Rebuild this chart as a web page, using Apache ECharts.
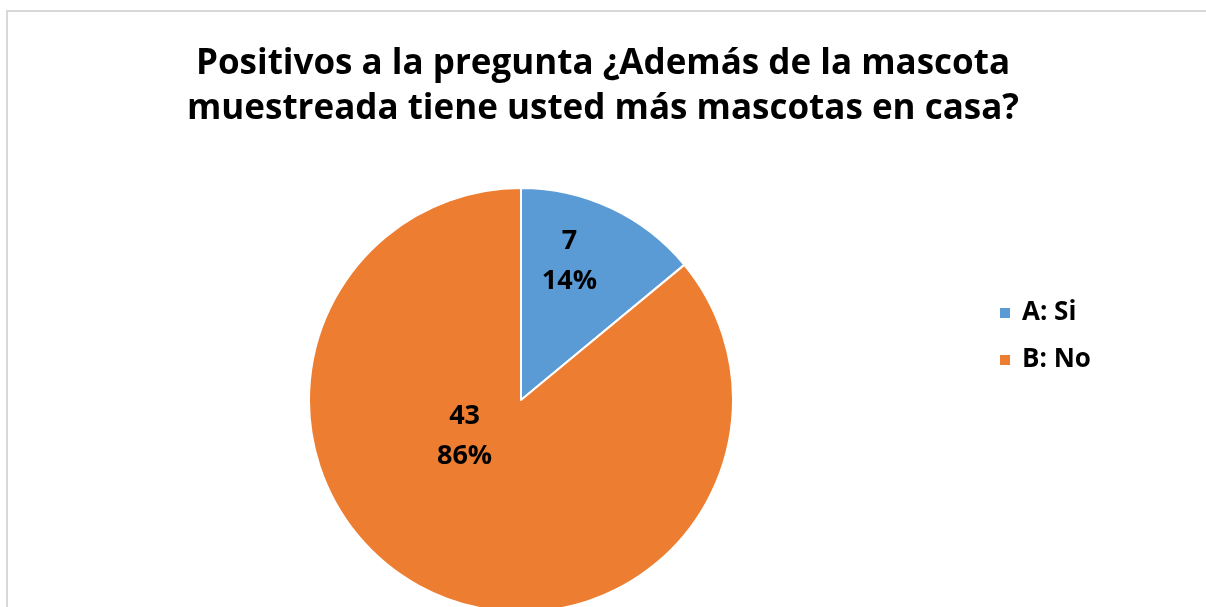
<!DOCTYPE html>
<html>
<head>
<meta charset="utf-8">
<script src="https://cdn.jsdelivr.net/npm/echarts@6/dist/echarts.min.js"></script>
<style>
  html, body { margin: 0; padding: 0; background: #fff; }
  #chart { width: 1206px; height: 607px; }
</style>
</head>
<body>
<div id="chart"></div>
<script>
var titleText = 'Positivos a la pregunta ¿Además de la mascota\nmuestreada tiene usted más mascotas en casa?';
var categories = ['A: Si', 'B: No'];
var counts = [7, 43];
var percents = [14, 86];
var colors = ['#5B9BD5', '#ED7D31'];

var font = '"Open Sans", Lato, sans-serif';

var chart = echarts.init(document.getElementById('chart'));

/* Excel puts the data labels in its own spots, so nudge them from the inside position. */
var labelOffsets = [[2, -40], [-10, -62]];

var pieData = categories.map(function (name, i) {
    return {
        name: name,
        value: counts[i],
        pct: percents[i],
        itemStyle: { color: colors[i] },
        label: { offset: labelOffsets[i] }
    };
});

chart.setOption({
    animation: false,
    backgroundColor: '#ffffff',
    title: {
        text: titleText,
        left: 'center',
        top: 37,
        textStyle: {
            fontFamily: font,
            fontWeight: 'bold',
            fontSize: 35,
            lineHeight: 45,
            color: '#000'
        }
    },
    legend: {
        orient: 'vertical',
        left: 993,
        top: 295,
        itemWidth: 12,
        itemHeight: 12,
        itemGap: 21,
        icon: 'rect',
        data: categories,
        textStyle: {
            fontFamily: font,
            fontWeight: 'bold',
            fontSize: 26,
            padding: [0, 0, 0, 6],
            color: '#000'
        }
    },
    graphic: [{
        type: 'rect',
        shape: { x: 7, y: 11, width: 1400, height: 800 },
        style: { fill: 'none', stroke: '#d9d9d9', lineWidth: 2 },
        z: -1
    }],
    series: [{
        type: 'pie',
        center: [521, 400],
        radius: 212,
        startAngle: 90,
        clockwise: true,
        data: pieData,
        itemStyle: { borderColor: '#fff', borderWidth: 2 },
        label: {
            show: true,
            position: 'inside',
            formatter: function (p) {
                return p.value + '\n' + p.data.pct + '%';
            },
            fontFamily: font,
            fontWeight: 'bold',
            fontSize: 27,
            lineHeight: 40,
            color: '#000'
        },
        labelLine: { show: false },
        emphasis: { disabled: true }
    }]
});
</script>
</body>
</html>
